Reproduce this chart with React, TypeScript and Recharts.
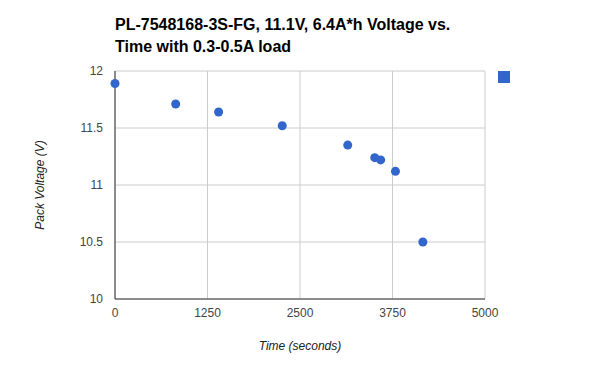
import React from "react"
import {
  ScatterChart, Scatter, XAxis, YAxis, CartesianGrid, Label,
} from "recharts"

// seconds since start of test
const timeSec = [0, 820, 1400, 2260, 3145, 3510, 3590, 3790, 4160]
// pack voltage at each reading
const packVolts = [11.89, 11.71, 11.64, 11.52, 11.35, 11.24, 11.22, 11.12, 10.5]

const xTicks = [0, 1250, 2500, 3750, 5000]
const yTicks = [10, 10.5, 11, 11.5, 12]

const points = timeSec.map((t, i) => ({ t, v: packVolts[i] }))

const FONT = "Arial, 'Liberation Sans', sans-serif"
const BLUE = "#3366cc"

export default function App() {
  return (
    <div style={{ position: "absolute", left: 0, top: 0, width: 600, height: 371, background: "#fff", fontFamily: FONT }}>
      <div
        style={{
          position: "absolute", left: 115, top: 14, fontSize: 16, fontWeight: "bold",
          color: "#000", lineHeight: "22px", width: 380,
        }}
      >
        PL-7548168-3S-FG, 11.1V, 6.4A*h Voltage vs.<br />Time with 0.3-0.5A load
      </div>
      {/* legend key: single series, no text */}
      <div style={{ position: "absolute", left: 498, top: 71, width: 12, height: 12, background: BLUE }} />
      <ScatterChart width={600} height={371} margin={{ top: 71, right: 115, bottom: 0, left: 15 }}>
        <CartesianGrid stroke="#cccccc" horizontal vertical />
        <XAxis
          type="number"
          dataKey="t"
          domain={[0, 5000]}
          ticks={xTicks}
          tickLine={false}
          tickSize={0}
          tickMargin={9}
          height={72}
          axisLine={{ stroke: "#333" }}
          tick={{ fontSize: 12, fill: "#444", fontFamily: FONT }}
        >
          <Label
            value="Time (seconds)"
            position="insideBottom"
            offset={21}
            style={{ fontSize: 12, fontStyle: "italic", fill: "#222", fontFamily: FONT }}
          />
        </XAxis>
        <YAxis
          type="number"
          dataKey="v"
          domain={[10, 12]}
          ticks={yTicks}
          tickLine={false}
          tickSize={0}
          tickMargin={12}
          width={100}
          axisLine={{ stroke: "#333" }}
          tick={{ fontSize: 12, fill: "#444", fontFamily: FONT }}
        >
          <Label
            value="Pack Voltage (V)"
            angle={-90}
            position="insideLeft"
            offset={25}
            style={{ textAnchor: "middle", fontSize: 12, fontStyle: "italic", fill: "#222", fontFamily: FONT }}
          />
        </YAxis>
        <Scatter data={points} fill={BLUE} isAnimationActive={false} />
      </ScatterChart>
    </div>
  )
}
